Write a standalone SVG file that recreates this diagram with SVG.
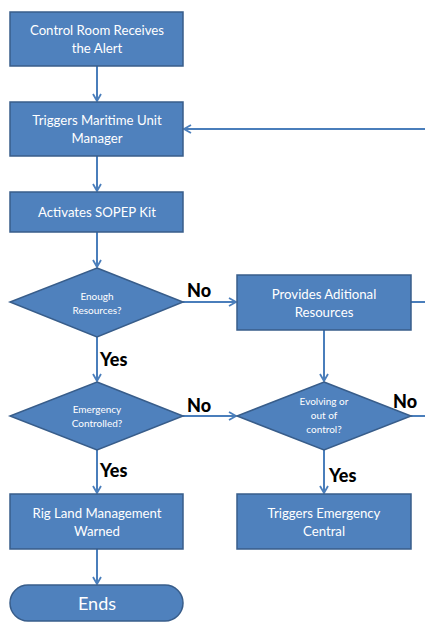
<svg xmlns="http://www.w3.org/2000/svg" width="425" height="623" viewBox="0 0 425 623">
<style>
.n{fill:#4F81BD;stroke:#385D8A;stroke-width:1.5}
.t{fill:#fff;font-family:Lato,"Open Sans",sans-serif;font-size:13.2px;text-anchor:middle}
.d{fill:#fff;font-family:Lato,"Open Sans",sans-serif;font-size:10px;text-anchor:middle}
.c{fill:none;stroke:#4A7EBB;stroke-width:2}
.l{fill:#000;font-family:Lato,"Open Sans",sans-serif;font-size:18px;font-weight:900}
</style>
<defs>
<marker id="a" markerWidth="10" markerHeight="10" refX="8" refY="5" orient="auto" markerUnits="userSpaceOnUse">
<path d="M1,1 L8,5 L1,9" fill="none" stroke="#4A7EBB" stroke-width="1.8"/>
</marker>
</defs>
<rect width="425" height="623" fill="#fff"/>
<g id="connectors">
<path class="c" d="M97,66 V101" marker-end="url(#a)"/>
<path class="c" d="M425,129 H184" marker-end="url(#a)"/>
<path class="c" d="M97,156 V191" marker-end="url(#a)"/>
<path class="c" d="M97,232 V267" marker-end="url(#a)"/>
<path class="c" d="M183,302 H236" marker-end="url(#a)"/>
<path class="c" d="M411,302 H425"/>
<path class="c" d="M97,337 V381" marker-end="url(#a)"/>
<path class="c" d="M324,330 V381" marker-end="url(#a)"/>
<path class="c" d="M183,416 H236" marker-end="url(#a)"/>
<path class="c" d="M411,416 H425"/>
<path class="c" d="M97,450 V493" marker-end="url(#a)"/>
<path class="c" d="M324,450 V493" marker-end="url(#a)"/>
<path class="c" d="M97,549 V584" marker-end="url(#a)"/>
<text class="l" x="187" y="297">No</text>
<text class="l" x="100" y="366">Yes</text>
<text class="l" x="187" y="412">No</text>
<text class="l" x="393" y="408">No</text>
<text class="l" x="100" y="477">Yes</text>
<text class="l" x="329" y="482">Yes</text>
</g>
<g id="alert">
<rect class="n" x="10" y="12" width="173" height="54"/>
<text class="t" x="97" y="35">Control Room Receives</text>
<text class="t" x="97" y="53">the Alert</text>
</g>
<g id="maritime">
<rect class="n" x="10" y="102" width="173" height="54"/>
<text class="t" x="97" y="125">Triggers Maritime Unit</text>
<text class="t" x="97" y="143">Manager</text>
</g>
<g id="sopep">
<rect class="n" x="10" y="192" width="173" height="40"/>
<text class="t" x="97" y="217">Activates SOPEP Kit</text>
</g>
<g id="enough">
<polygon class="n" points="97,268 183,302 97,337 10,302"/>
<text class="d" x="97" y="300">Enough</text>
<text class="d" x="97" y="314">Resources?</text>
</g>
<g id="provides">
<rect class="n" x="237" y="275" width="174" height="55"/>
<text class="t" x="324" y="299">Provides Aditional</text>
<text class="t" x="324" y="317">Resources</text>
</g>
<g id="controlled">
<polygon class="n" points="97,382 183,416 97,450 10,416"/>
<text class="d" x="97" y="413">Emergency</text>
<text class="d" x="97" y="427">Controlled?</text>
</g>
<g id="evolving">
<polygon class="n" points="324,382 411,416 324,450 237,416"/>
<text class="d" x="324" y="405">Evolving or</text>
<text class="d" x="324" y="419">out of</text>
<text class="d" x="324" y="433">control?</text>
</g>
<g id="rig">
<rect class="n" x="10" y="494" width="173" height="55"/>
<text class="t" x="97" y="518">Rig Land Management</text>
<text class="t" x="97" y="536">Warned</text>
</g>
<g id="central">
<rect class="n" x="237" y="494" width="174" height="55"/>
<text class="t" x="324" y="518">Triggers Emergency</text>
<text class="t" x="324" y="536">Central</text>
</g>
<g id="ends">
<rect class="n" x="10" y="585" width="173" height="36" rx="18" ry="18"/>
<text class="t" x="97" y="610" style="font-size:18px">Ends</text>
</g>
</svg>
